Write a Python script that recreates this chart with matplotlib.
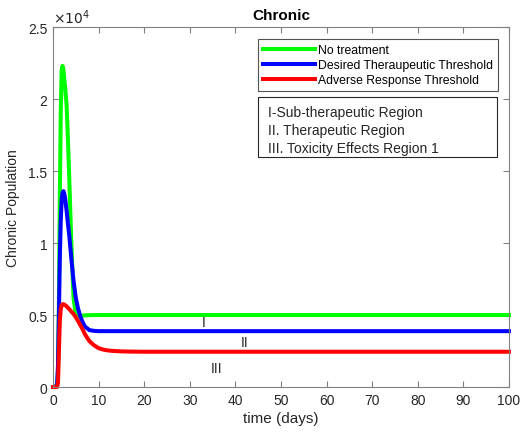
import matplotlib
matplotlib.use("Agg")
import matplotlib.pyplot as plt
from matplotlib.patches import Rectangle
from matplotlib.ticker import FuncFormatter

plt.rcParams['font.family'] = ['Liberation Sans', 'DejaVu Sans']

# Chronic population over time (days)
t = [0, 0.5, 0.9, 1.1, 1.3, 1.5, 1.7, 1.9, 2.1, 2.3, 2.5, 2.7, 3.0, 3.3, 3.6,
     4.0, 4.5, 5.0, 5.5, 6.0, 6.5, 7.0, 8.0, 9.0, 10, 11, 12, 13, 14, 15, 17,
     20, 25, 30, 40, 50, 60, 70, 80, 90, 100]

no_treatment = [0, 0, 200, 1000, 6000, 13000, 19000, 22000, 22300, 22000, 21300,
                20700, 19500, 17000, 14200, 10200, 6200, 5000, 4950, 4950, 4960,
                4980, 4990, 5000, 5000, 5000, 5000, 5000, 5000, 5000, 5000,
                5000, 5000, 5000, 5000, 5000, 5000, 5000, 5000, 5000, 5000]

desired = [0, 0, 150, 1500, 5000, 9000, 11500, 13000, 13500, 13600, 13400,
           13000, 12200, 11300, 10400, 9000, 7400, 6200, 5450, 4900, 4500,
           4200, 3950, 3900, 3880, 3880, 3880, 3880, 3880, 3880, 3880,
           3880, 3880, 3880, 3880, 3880, 3880, 3880, 3880, 3880, 3880]

adverse = [0, 0, 0, 300, 2500, 4600, 5400, 5700, 5750, 5750, 5720,
           5680, 5600, 5500, 5400, 5250, 5080, 4850, 4580, 4300, 4000,
           3670, 3180, 2900, 2700, 2600, 2540, 2510, 2490, 2475, 2460,
           2450, 2450, 2450, 2450, 2450, 2450, 2450, 2450, 2450, 2450]

legend_labels = ["No treatment", "Desired Theraupeutic Threshold", "Adverse Response Threshold"]
region_notes = ["I-Sub-therapeutic Region", "II. Therapeutic Region", "III. Toxicity Effects Region 1"]

# region markers: (label, x, y)
markers = [("I", 33, 4500), ("II", 42, 3100), ("III", 35.8, 1300)]

fig = plt.figure(figsize=(5.21, 4.35), dpi=100)
ax = fig.add_axes([0.1017, 0.108, 0.8752, 0.8276])

lw = 2.9
ax.plot(t, no_treatment, color=(0, 1, 0), lw=lw, label=legend_labels[0], clip_on=False)
ax.plot(t, desired, color=(0, 0, 1), lw=lw, label=legend_labels[1], clip_on=False)
ax.plot(t, adverse, color=(1, 0, 0), lw=lw, label=legend_labels[2], clip_on=False)

for lab, x, y in markers:
    ax.text(x, y, lab, fontsize=10, ha='center', va='center', color='#262626')

ax.set_xlim(0, 100)
ax.set_ylim(0, 25000)
ax.set_xticks(range(0, 101, 10))
ax.set_yticks(range(0, 25001, 5000))
ax.yaxis.set_major_formatter(FuncFormatter(lambda v, p: f"{v / 1e4:g}"))
ax.tick_params(direction='in', top=True, right=True, length=4, width=0.8,
               colors='#808080', labelcolor='#262626', labelsize=10, pad=4)
for s in ax.spines.values():
    s.set_color('#808080')
    s.set_linewidth(0.8)

ax.text(0, 1.004, r"$\times10^4$", transform=ax.transAxes, fontsize=10,
        color='#262626', ha='left', va='bottom')
ax.set_title("Chronic", fontsize=11, fontweight='bold', pad=6)
ax.set_xlabel("time (days)", fontsize=11, color='#262626', labelpad=3)
ax.set_ylabel("Chronic Population", fontsize=10, color='#262626', labelpad=6)

leg = ax.legend(loc='upper left', bbox_to_anchor=(0.4496, 0.967), fontsize=8.8,
                frameon=True, fancybox=False, handlelength=4.3, handletextpad=0.2,
                borderpad=0.4, labelspacing=0.25, borderaxespad=0)
leg.get_frame().set_edgecolor('#262626')
leg.get_frame().set_linewidth(0.8)

# box listing the regions
ax.add_patch(Rectangle((0.4496, 0.639), 0.524, 0.167, transform=ax.transAxes,
                       fill=True, facecolor='white', edgecolor='#262626', lw=0.8))
for i, note in enumerate(region_notes):
    ax.text(0.471, 0.764 - i * 0.05, note, transform=ax.transAxes, fontsize=10,
            color='#262626', va='center', ha='left')

fig.savefig("out.png", dpi=100)
